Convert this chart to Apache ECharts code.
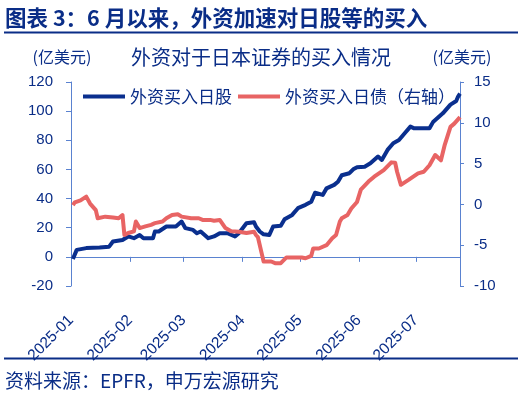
<!DOCTYPE html>
<html><head><meta charset="utf-8">
<script src="https://cdn.jsdelivr.net/npm/echarts@6/dist/echarts.min.js"></script>
<style>html,body{margin:0;padding:0;background:#fff}#c{width:520px;height:396px}</style>
</head><body><div id="c"></div>
<script>
const monthTicks = ['2025-01-01','2025-02-01','2025-03-01','2025-04-01','2025-05-01','2025-06-01','2025-07-01'];
const leftTicks = [-20,0,20,40,60,80,100,120];
const rightTicks = [-10,-5,0,5,10,15];

const seriesNames = ['外资买入日股','外资买入日债（右轴）'];

const blueDates = ['2025-01-02','2025-01-04','2025-01-09','2025-01-16','2025-01-21','2025-01-22','2025-01-23','2025-01-28','2025-01-31','2025-02-03','2025-02-04','2025-02-06','2025-02-08','2025-02-13','2025-02-14','2025-02-16','2025-02-20','2025-02-25','2025-02-28','2025-03-02','2025-03-06','2025-03-08','2025-03-10','2025-03-14','2025-03-17','2025-03-20','2025-03-24','2025-03-28','2025-03-30','2025-04-03','2025-04-07','2025-04-08','2025-04-10','2025-04-12','2025-04-15','2025-04-17','2025-04-21','2025-04-23','2025-04-27','2025-04-30','2025-05-04','2025-05-07','2025-05-09','2025-05-13','2025-05-15','2025-05-19','2025-05-21','2025-05-23','2025-05-27','2025-05-29','2025-05-31','2025-06-04','2025-06-07','2025-06-11','2025-06-13','2025-06-16','2025-06-19','2025-06-22','2025-06-25','2025-06-28','2025-06-30','2025-07-08','2025-07-10','2025-07-15','2025-07-19','2025-07-22','2025-07-23','2025-07-24'];
const blueValues = [-1.5,4.8,6,6.4,7,6,10.5,11.6,14,12.8,12,15,12.8,12.8,17.4,17.4,20.8,20.8,24.2,19.7,18.5,16.2,17.4,12.8,14,16.2,16.2,14,16.2,23,23.8,20.8,17.4,15.5,15,20.8,21.3,25.8,28.8,33.4,35.7,37.9,44,42.5,47,49.4,51.6,56,57.4,60.1,61.5,61.9,64.2,68.8,66.5,73.4,78,80.2,84.8,89.4,88.2,88.2,92.8,98.5,104.5,107,110,112];

const redDates = ['2025-01-02','2025-01-03','2025-01-06','2025-01-09','2025-01-11','2025-01-14','2025-01-15','2025-01-19','2025-01-23','2025-01-26','2025-01-28','2025-01-29','2025-01-31','2025-02-03','2025-02-04','2025-02-06','2025-02-09','2025-02-12','2025-02-14','2025-02-18','2025-02-20','2025-02-23','2025-02-26','2025-02-28','2025-03-05','2025-03-09','2025-03-11','2025-03-15','2025-03-17','2025-03-20','2025-03-23','2025-03-26','2025-03-30','2025-04-03','2025-04-07','2025-04-08','2025-04-09','2025-04-11','2025-04-12','2025-04-16','2025-04-18','2025-04-21','2025-04-24','2025-04-29','2025-05-02','2025-05-04','2025-05-07','2025-05-08','2025-05-11','2025-05-15','2025-05-18','2025-05-20','2025-05-22','2025-05-23','2025-05-26','2025-05-28','2025-05-31','2025-06-02','2025-06-06','2025-06-09','2025-06-14','2025-06-18','2025-06-20','2025-06-21','2025-06-23','2025-06-27','2025-07-02','2025-07-05','2025-07-08','2025-07-11','2025-07-14','2025-07-16','2025-07-19','2025-07-21','2025-07-24'];
const redValues = [-0.1,0.25,0.5,0.95,0.1,-0.7,-1.7,-1.5,-1.6,-1.7,-1.3,-3.75,-3.5,-3.3,-2.1,-2.9,-2.7,-2.5,-2.3,-2.1,-1.7,-1.3,-1.2,-1.5,-1.7,-1.7,-1.9,-1.9,-2.0,-1.9,-2.9,-3.3,-3.35,-3.5,-3.35,-3.75,-4,-6,-7,-7,-7.2,-7.2,-6.5,-6.5,-6.5,-6.6,-6.3,-5.4,-5.4,-5,-4.15,-3.75,-2.1,-1.7,-1.3,-0.5,0.3,1.8,2.8,3.4,4.2,5.15,5.1,4,2.4,3.0,3.8,4.0,4.8,6.05,5.4,7.3,9.5,9.9,10.7];

const NAVY = '#0a2d87';
const AXIS = '#5a82d0';
const LATIN = '"Liberation Sans", Arial, "Noto Sans CJK SC", sans-serif';
const CJK = '"Noto Sans CJK SC", "Liberation Sans", sans-serif';

function toTime(s) { const p = s.split('-'); return new Date(+p[0], +p[1] - 1, +p[2]).getTime(); }
function fmtMonth(v) { const d = new Date(v); return d.getFullYear() + '-' + String(d.getMonth() + 1).padStart(2, '0'); }
const tickTimes = monthTicks.map(toTime);

const chart = echarts.init(document.getElementById('c'), null, { renderer: 'canvas' });
chart.setOption({
  animation: false,
  backgroundColor: '#fff',
  grid: { left: 71, right: 60, top: 82, bottom: 110 },
  legend: {
    data: seriesNames,
    left: 83, top: 88, padding: 0,
    icon: 'rect', itemWidth: 42, itemHeight: 4, itemGap: 6,
    textStyle: { color: NAVY, fontSize: 17, fontFamily: CJK }
  },
  xAxis: {
    type: 'value',
    min: toTime('2025-01-01'), max: toTime('2025-07-24'),
    axisLine: { onZero: true, lineStyle: { color: AXIS, width: 1 } },
    axisTick: { show: true, length: 5, customValues: tickTimes, lineStyle: { color: AXIS } },
    axisLabel: {
      customValues: tickTimes, rotate: 45, margin: 32,
      color: NAVY, fontSize: 15.5, fontFamily: LATIN,
      formatter: v => fmtMonth(v)
    },
    splitLine: { show: false }
  },
  yAxis: [{
    type: 'value', min: leftTicks[0], max: leftTicks[leftTicks.length - 1], interval: 20,
    axisLine: { show: true, onZero: false, lineStyle: { color: AXIS } },
    axisTick: { show: true, length: 5, lineStyle: { color: AXIS } },
    axisLabel: { color: NAVY, fontSize: 15, fontFamily: LATIN, margin: 18 },
    splitLine: { show: false }
  }, {
    type: 'value', min: rightTicks[0], max: rightTicks[rightTicks.length - 1], interval: 5,
    position: 'right',
    axisLine: { show: true, onZero: false, lineStyle: { color: AXIS } },
    axisTick: { show: true, length: 4, lineStyle: { color: AXIS } },
    axisLabel: { color: NAVY, fontSize: 15, fontFamily: LATIN, margin: 14 },
    splitLine: { show: false }
  }],
  series: [{
    name: seriesNames[0], type: 'line', yAxisIndex: 0,
    data: blueDates.map((d, i) => [toTime(d), blueValues[i]]),
    showSymbol: false, symbol: 'none', color: '#0a2f8e',
    lineStyle: { width: 4, color: '#0a2f8e', join: 'round' }
  }, {
    name: seriesNames[1], type: 'line', yAxisIndex: 1,
    data: redDates.map((d, i) => [toTime(d), redValues[i]]),
    showSymbol: false, symbol: 'none', color: '#e86464',
    lineStyle: { width: 4, color: '#e86464', join: 'round' }
  }],
  graphic: [
    { type: 'text', style: { x: 5, y: 18, text: '图表 3：6 月以来，外资加速对日股等的买入', textVerticalAlign: 'middle', font: 'bold 21.5px "Noto Sans CJK SC", sans-serif', fill: NAVY } },
    { type: 'line', shape: { x1: 4, y1: 32.5, x2: 518, y2: 32.5 }, style: { stroke: NAVY, lineWidth: 2 } },
    { type: 'text', style: { x: 261, y: 57, text: '外资对于日本证券的买入情况', textAlign: 'center', textVerticalAlign: 'middle', font: '20px "Noto Sans CJK SC", sans-serif', fill: NAVY } },
    { type: 'text', style: { x: 62, y: 57, text: '(亿美元)', textAlign: 'center', textVerticalAlign: 'middle', font: '16px "Noto Sans CJK SC", sans-serif', fill: NAVY } },
    { type: 'text', style: { x: 462, y: 57, text: '(亿美元)', textAlign: 'center', textVerticalAlign: 'middle', font: '16px "Noto Sans CJK SC", sans-serif', fill: NAVY } },
    { type: 'line', shape: { x1: 4, y1: 358.5, x2: 518, y2: 358.5 }, style: { stroke: NAVY, lineWidth: 2 } },
    { type: 'text', style: { x: 5, y: 381, text: '资料来源：EPFR，申万宏源研究', textVerticalAlign: 'middle', font: '19px "Noto Sans CJK SC", sans-serif', fill: NAVY } }
  ]
});
</script>
</body></html>
